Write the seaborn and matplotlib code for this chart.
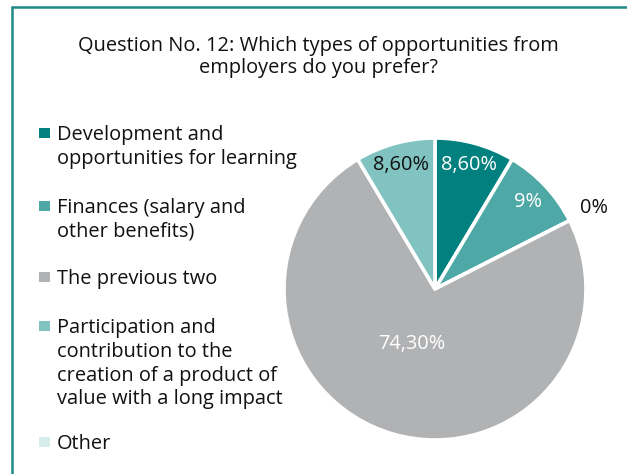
import matplotlib
matplotlib.use("Agg")
import matplotlib.pyplot as plt
from matplotlib.patches import Rectangle
import numpy as np
import seaborn as sns

sns.set_theme(style="white")
plt.rcParams["font.family"] = ["Open Sans", "DejaVu Sans"]

# Survey answers (legend order)
categories = [
    "Development and\nopportunities for learning",
    "Finances (salary and\nother benefits)",
    "The previous two",
    "Participation and\ncontribution to the\ncreation of a product of\nvalue with a long impact",
    "Other",
]
values = [8.6, 9.0, 74.3, 8.6, 0.0]
value_labels = ["8,60%", "9%", "74,30%", "8,60%", "0%"]
title = "Question No. 12: Which types of opportunities from\nemployers do you prefer?"

# order of the slices going clockwise from twelve o'clock
pie_order = [0, 1, 4, 2, 3]

colors = ["#00807e", "#4ea9a6", "#b1b2b4", "#80c3c1", "#d6edeb"]
label_colors = ["white", "white", "white", "#111111", "#111111"]
label_dist = [0.85, 0.84, 0.38, 0.85, 1.18]

FS = 14.4
W, H = 627, 474
fig = plt.figure(figsize=(W / 100, H / 100), dpi=100)
fig.patch.set_facecolor("white")

# frame lines along top and left
frame_col = "#1f8a86"
fig.add_artist(plt.Line2D([11.5 / W, 11.5 / W], [0, 1 - 7 / H], transform=fig.transFigure,
                          color=frame_col, lw=1.8))
fig.add_artist(plt.Line2D([11.5 / W, 1], [1 - 7 / H, 1 - 7 / H], transform=fig.transFigure,
                          color=frame_col, lw=1.8))

fig.text(318 / W, 1 - 57 / H, title, ha="center", va="center", fontsize=FS,
         color="#111111", linespacing=1.14)

# pie
cx, cy, r = 435, 474 - 289, 151
ax = fig.add_axes([(cx - r) / W, (cy - r) / H, 2 * r / W, 2 * r / H])
wedges, _ = ax.pie([values[i] for i in pie_order],
                   colors=[colors[i] for i in pie_order],
                   startangle=90, counterclock=False, radius=1.0,
                   wedgeprops=dict(edgecolor="white", linewidth=2.6))
ax.set_xlim(-1, 1)
ax.set_ylim(-1, 1)
ax.set_aspect("equal")
ax.axis("off")

for w, i in zip(wedges, pie_order):
    ang = np.deg2rad((w.theta1 + w.theta2) / 2)
    d = label_dist[i]
    x, y = d * np.cos(ang), d * np.sin(ang)
    if i == 2:
        x -= 0.05
    ax.text(x, y, value_labels[i], ha="center", va="center", fontsize=FS,
            color=label_colors[i])

# legend
first_lines = [133, 206, 277, 326, 442]
for cat, col, y0 in zip(categories, colors, first_lines):
    fig.add_artist(Rectangle((39 / W, 1 - (y0 + 5) / H), 10.5 / W, 10.5 / H,
                             transform=fig.transFigure, facecolor=col, edgecolor="none"))
    fig.text(57 / W, 1 - (y0 - 8) / H, cat, ha="left", va="top", fontsize=FS,
             color="#111111", linespacing=1.25)

fig.savefig("out.png", dpi=100)
